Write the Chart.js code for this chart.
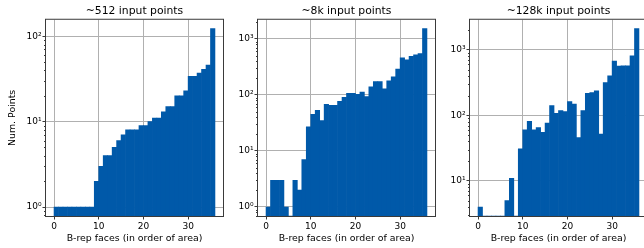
<!DOCTYPE html>
<html>
<head>
<meta charset="utf-8">
<script src="https://cdn.jsdelivr.net/npm/chart.js@4.4.1/dist/chart.umd.min.js"></script>
<style>
  html, body { margin: 0; padding: 0; background: #fff; }
  #wrap { position: relative; width: 644px; height: 248px; overflow: hidden; }
  #wrap canvas { position: absolute; top: 0; }
</style>
</head>
<body>
<div id="wrap">
  <canvas id="c512" width="226" height="248" style="left:0px"></canvas>
  <canvas id="c8k" width="212" height="248" style="left:226px"></canvas>
  <canvas id="c128k" width="210" height="248" style="left:440px"></canvas>
</div>
<script>
// B-rep face index of each histogram bin (faces sorted by area)
const faces = [0, 1, 2, 3, 4, 5, 6, 7, 8, 9, 10, 11, 12, 13, 14, 15, 16, 17,
  18, 19, 20, 21, 22, 23, 24, 25, 26, 27, 28, 29, 30, 31, 32, 33, 34, 35];

// Points per face, one array per input size
const counts512 = [1, 1, 1, 1, 1, 1, 1, 1, 1, 2, 3, 4, 4, 5, 6, 7, 8, 8,
  8, 9, 9, 10, 11, 11, 13, 15, 15, 20, 20, 23, 34, 34, 37, 41, 46, 123];
const counts8k = [1, 3, 3, 3, 1, 0, 3, 2, 7, 27, 45, 53, 35, 68, 65, 65, 77, 91,
  107, 107, 103, 112, 94, 139, 173, 173, 128, 178, 210, 291, 458, 422, 491, 518, 548, 1534];
const counts128k = [4, 0, 0, 0, 0, 0, 5, 11, 0, 31, 60, 81, 60, 65, 55, 76, 141, 107,
  118, 114, 162, 148, 46, 118, 217, 222, 236, 52, 316, 400, 671, 563, 569, 570, 809, 2100];

const titles = ['~512 input points', '~8k input points', '~128k input points'];

// Axis ticks
const xTicks = [0, 10, 20, 30];
const decadeTicks = [1, 10, 100, 1000];
const decadeLabels = ['10⁰', '10¹', '10²', '10³'];

// Styling
const fontFamily = 'DejaVu Sans';
const barColor = '#0059a9';
const gridColor = '#b0b0b0';
const spineColor = '#3a3a3a';

// Panel layout: axis limits and sizes
const panels = [
  {id: 'c512', counts: counts512, title: titles[0], yMin: 0.786, yMax: 156, axisWidth: 46, padRight: 3, yTitle: true},
  {id: 'c8k', counts: counts8k, title: titles[1], yMin: 0.69, yMax: 2200, axisWidth: 32, padRight: 3, yTitle: false},
  {id: 'c128k', counts: counts128k, title: titles[2], yMin: 2.92, yMax: 2870, axisWidth: 30, padRight: 3, yTitle: false}
];


// Minor log ticks (2..9 in each decade) inside the axis range
function minorTicks(min, max) {
  const list = [];
  for (let d = Math.floor(Math.log10(min)); d <= Math.floor(Math.log10(max)); d++) {
    for (let m = 2; m <= 9; m++) {
      const v = m * Math.pow(10, d);
      if (v >= min && v <= max) list.push(v);
    }
  }
  return list;
}


// Draws the axes box and the short minor tick marks
function framePlugin(minor) {
  return {
    id: 'frame',
    afterDraw(chart) {
      const {ctx, chartArea: a, scales: {y}} = chart;
      ctx.save();
      ctx.strokeStyle = spineColor;
      ctx.lineWidth = 1;
      ctx.beginPath();
      minor.forEach(v => {
        const py = Math.round(y.getPixelForValue(v)) + 0.5;
        ctx.moveTo(a.left - 2, py);
        ctx.lineTo(a.left, py);
      });
      ctx.stroke();
      ctx.strokeRect(a.left - 0.5, a.top - 0.5, a.right - a.left + 1, a.bottom - a.top + 1);
      ctx.restore();
    }
  };
}


// Create one histogram panel
function createPanel(p) {
  const decades = decadeTicks.filter(v => v >= p.yMin && v <= p.yMax);

  return new Chart(document.getElementById(p.id), {
    type: 'bar',
    data: {
      datasets: [{
        data: faces.map((f, i) => ({x: f + 0.5, y: p.counts[i]})),
        backgroundColor: barColor,
        borderWidth: 0,
        barPercentage: 1,
        categoryPercentage: 1
      }]
    },
    options: {
      responsive: false,
      animation: false,
      devicePixelRatio: 1,
      layout: {padding: {right: p.padRight}},
      plugins: {
        legend: {display: false},
        tooltip: {enabled: false},
        title: {
          display: true,
          text: p.title,
          fullSize: false,
          color: '#000',
          font: {family: fontFamily, size: 10.8, weight: 'normal'},
          padding: {top: 4.5, bottom: 2.3}
        }
      },
      scales: {
        x: {
          type: 'linear',
          min: -1.8,
          max: 37.8,
          offset: false,
          z: 1,
          afterBuildTicks: s => { s.ticks = xTicks.map(v => ({value: v})); },
          afterFit: s => { s.height = 32; },
          grid: {color: gridColor, offset: false, tickLength: 3.5, tickColor: spineColor, lineWidth: 1},
          border: {display: false},
          ticks: {color: '#000', font: {family: fontFamily, size: 9}, padding: 1.5, maxRotation: 0, autoSkip: false},
          title: {
            display: true,
            text: 'B-rep faces (in order of area)',
            color: '#000',
            font: {family: fontFamily, size: 9.4},
            padding: {top: 0, bottom: 3.9}
          }
        },
        y: {
          type: 'logarithmic',
          min: p.yMin,
          max: p.yMax,
          z: 1,
          afterBuildTicks: s => { s.ticks = decades.map(v => ({value: v, major: true})); },
          afterFit: s => { s.width = p.axisWidth; },
          grid: {color: gridColor, tickLength: 3.5, tickColor: spineColor, lineWidth: 1},
          border: {display: false},
          ticks: {
            color: '#000',
            font: {family: fontFamily, size: 9},
            padding: 1,
            autoSkip: false,
            callback: v => decadeLabels[decadeTicks.indexOf(v)]
          },
          title: {
            display: p.yTitle,
            text: 'Num. Points',
            color: '#000',
            font: {family: fontFamily, size: 9.4},
            padding: {top: 7.4, bottom: 0}
          }
        }
      }
    },
    plugins: [framePlugin(minorTicks(p.yMin, p.yMax))]
  });
}

panels.forEach(createPanel);
</script>
</body>
</html>
